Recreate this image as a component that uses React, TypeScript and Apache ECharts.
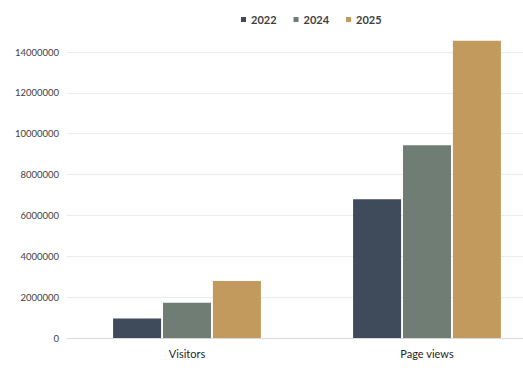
import React, { useEffect, useRef } from "react";
import * as echarts from "echarts";

const categories = ["Visitors", "Page views"];
const seriesNames = ["2022", "2024", "2025"];
const values2022 = [950000, 6790000];
const values2024 = [1730000, 9430000];
const values2025 = [2790000, 14550000];
const colors = ["#3f4a5a", "#6f7d74", "#c29a5e"];

export default function App() {
  const ref = useRef<HTMLDivElement>(null);
  useEffect(() => {
    if (!ref.current) return;
    const chart = echarts.init(ref.current, undefined, { renderer: "svg" });
    const data = [values2022, values2024, values2025];
    chart.setOption({
      animation: false,
      textStyle: { fontFamily: "Lato" },
      legend: {
        data: seriesNames,
        left: 236,
        top: 9,
        icon: "rect",
        itemWidth: 5,
        itemHeight: 5,
        itemGap: 17,
        textStyle: { fontSize: 11, fontWeight: "bold", color: "#404040", fontFamily: "Lato" },
      },
      grid: { left: 67, right: 13, top: 52, bottom: 39, containLabel: false },
      xAxis: {
        type: "category",
        data: categories,
        axisTick: { show: false },
        axisLine: { lineStyle: { color: "#d9d9d9" } },
        axisLabel: { fontSize: 11, color: "#262626", margin: 10, fontFamily: "Lato" },
      },
      yAxis: {
        type: "value",
        min: 0,
        max: 14000000,
        interval: 2000000,
        axisLabel: {
          fontSize: 9.5,
          color: "#404040",
          margin: 8,
          fontFamily: "Lato",
          formatter: (v: number) => String(v),
        },
        splitLine: { lineStyle: { color: "#ececec" } },
      },
      series: seriesNames.map((name, i) => ({
        name,
        type: "bar",
        data: data[i],
        barWidth: 48,
        barGap: "4%",
        clip: false,
        itemStyle: { color: colors[i] },
      })),
    });
    return () => chart.dispose();
  }, []);
  return (
    <div
      style={{ position: "fixed", left: 0, top: 0, width: 523, height: 377, overflow: "hidden", background: "#fff" }}
    >
      <div ref={ref} style={{ width: 560, height: 377 }} />
    </div>
  );
}
